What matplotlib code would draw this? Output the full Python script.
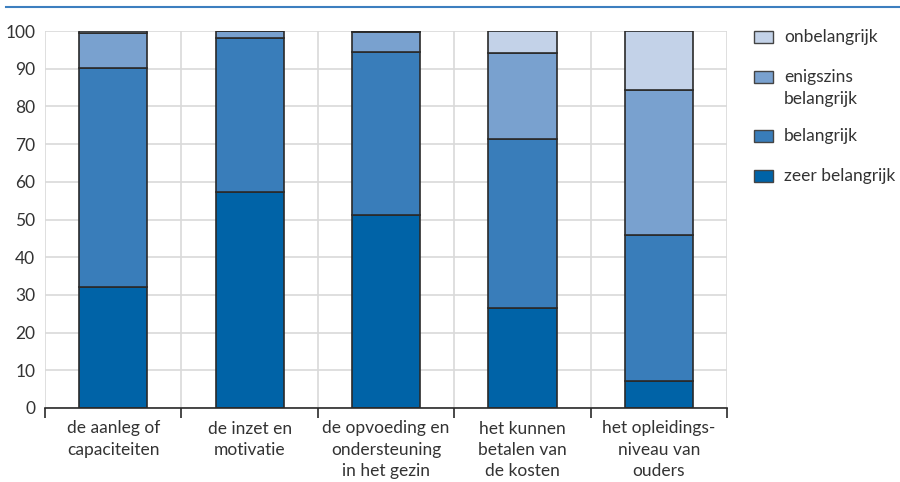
import matplotlib
matplotlib.use("Agg")
import matplotlib.pyplot as plt
from matplotlib.patches import Rectangle
from matplotlib.lines import Line2D
import numpy as np

categories = ["de aanleg of\ncapaciteiten", "de inzet en\nmotivatie",
              "de opvoeding en\nondersteuning\nin het gezin",
              "het kunnen\nbetalen van\nde kosten", "het opleidings-\nniveau van\nouders"]
zeer = [32.1, 57.2, 51.2, 26.4, 7.2]
belangrijk = [58.1, 41.0, 43.2, 45.0, 38.7]
enigszins = [9.4, 1.8, 5.3, 22.8, 38.4]
onbelangrijk = [0.4, 0.0, 0.3, 5.8, 15.7]
series_names = ["zeer belangrijk", "belangrijk", "enigszins\nbelangrijk", "onbelangrijk"]
yticks = [0, 10, 20, 30, 40, 50, 60, 70, 80, 90, 100]

colors = ["#0063a7", "#397dba", "#79a1cf", "#c3d2e8"]
edge = "#2a2a2a"
txt = "#333333"
fs = 12.5

plt.rcParams['font.family'] = ['Lato', 'DejaVu Sans']

fig = plt.figure(figsize=(9, 4.82), dpi=100)
ax = fig.add_axes([45/900, 1-408/482, (727-45)/900, (408-31)/482])

x = np.arange(len(categories))
bottom = np.zeros(len(categories))
for vals, c in zip([zeer, belangrijk, enigszins, onbelangrijk], colors):
    v = np.array(vals)
    ax.bar(x, v, bottom=bottom, width=0.5, color=c, edgecolor=edge, linewidth=1.2, zorder=3)
    bottom += v

ax.set_xlim(-0.5, len(categories)-0.5)
ax.set_ylim(0, 100)
ax.set_yticks(yticks)
ax.set_yticklabels([str(t) for t in yticks], fontsize=fs, color=txt)
ax.tick_params(axis='y', length=0, pad=7)
for t in yticks:
    ax.axhline(t, color="#d9d9d9", linewidth=1.2, zorder=1)
for b in np.arange(-0.5, len(categories)):
    ax.axvline(b, color="#d9d9d9", linewidth=1.2, zorder=1)

ax.set_xticks(np.arange(-0.5, len(categories)), minor=False)
ax.set_xticklabels([])
ax.tick_params(axis='x', length=7, width=1.2, color=edge, direction='out')
ax.set_xticks(x, minor=True)
ax.set_xticklabels(categories, minor=True, fontsize=fs, color=txt, linespacing=1.42)
ax.tick_params(axis='x', which='minor', length=0, pad=9)

for s in ["top", "right", "left"]:
    ax.spines[s].set_visible(False)
ax.spines["bottom"].set_color(edge)
ax.spines["bottom"].set_linewidth(1.2)
ax.spines["bottom"].set_zorder(4)

# top line
fig.add_artist(Line2D([6/900, 1.0], [1-7/482, 1-7/482], color="#3d7fbf", linewidth=1.5))

# legend
leg_items = [("onbelangrijk", colors[3], 37), ("enigszins\nbelangrijk", colors[2], 77),
             ("belangrijk", colors[1], 136), ("zeer belangrijk", colors[0], 176)]
for label, c, yc in leg_items:
    fig.add_artist(Rectangle((754/900, 1-(yc+6)/482), 19/900, 12/482,
                             facecolor=c, edgecolor="#444444", linewidth=1.0))
    if '\n' in label:
        fig.text(784/900, 1-(yc-8)/482, label, fontsize=fs, color=txt, va='top', ha='left',
                 linespacing=1.45)
    else:
        fig.text(784/900, 1-yc/482, label, fontsize=fs, color=txt, va='center', ha='left')

fig.savefig("out.png", dpi=100)
